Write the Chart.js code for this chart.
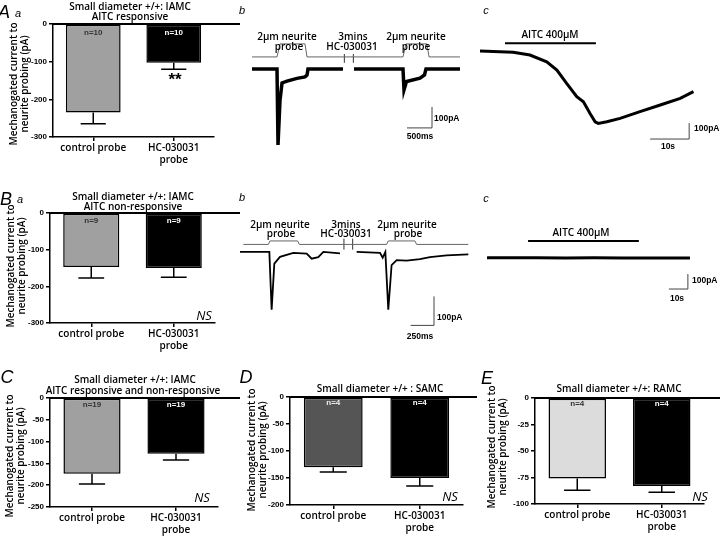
<!DOCTYPE html>
<html>
<head>
<meta charset="utf-8">
<script src="https://cdn.jsdelivr.net/npm/chart.js@4.4.1/dist/chart.umd.min.js"></script>
<style>
    body {margin: 0; width: 720px; height: 536px; position: relative; overflow: hidden; background: #fff; font-family: 'Open Sans', sans-serif; color: #000;}
    canvas {position: absolute;}
    .t {position: absolute; white-space: nowrap; transform: translate(-50%, -50%); line-height: 1;}
    .l {transform: translate(0, -50%);}
    .ttl {font-size: 10px; font-weight: 600;}
    .lbl {font-size: 10px; font-weight: 600;}
    .sc {font-size: 8.5px; font-weight: bold; font-family: 'Liberation Sans', sans-serif;}
    .big {font-size: 18px; font-style: italic; font-family: 'Liberation Sans', sans-serif;}
    .sub {font-size: 11px; font-style: italic; font-family: 'Liberation Sans', sans-serif;}
    .ns {font-size: 13px; font-style: italic;}
    .star {font-size: 17px; font-weight: bold; font-family: 'Liberation Sans', sans-serif;}
    .ax {font-size: 10px; font-weight: 600; line-height: 10.5px; text-align: center; transform: translate(-50%, -50%) rotate(-90deg);}
</style>
</head>
<body>
<canvas id="aa" width="240" height="180" style="left:0;top:0"></canvas>
<canvas id="ab" width="240" height="180" style="left:240px;top:0"></canvas>
<canvas id="ac" width="240" height="180" style="left:480px;top:0"></canvas>
<canvas id="ba" width="240" height="175" style="left:0;top:180px"></canvas>
<canvas id="bb" width="240" height="175" style="left:240px;top:180px"></canvas>
<canvas id="bc" width="240" height="175" style="left:480px;top:180px"></canvas>
<canvas id="cc" width="240" height="181" style="left:0;top:355px"></canvas>
<canvas id="dd" width="240" height="181" style="left:240px;top:355px"></canvas>
<canvas id="ee" width="240" height="181" style="left:480px;top:355px"></canvas>
<script>
    // ---- bar chart data (pA, mean and SEM) ----
    const barLabels = ['control probe', ['HC-030031', 'probe']];

    const aaMeans = [-235, -103];
    const aaErrs = [30, 17];
    const aaN = ['n=10', 'n=10'];

    const baMeans = [-147, -150];
    const baErrs = [30, 25];
    const baN = ['n=9', 'n=9'];

    const cMeans = [-174, -128];
    const cErrs = [23, 14];
    const cN = ['n=19', 'n=19'];

    const dMeans = [-130, -150];
    const dErrs = [9, 15];
    const dN = ['n=4', 'n=4'];

    const eMeans = [-76, -83];
    const eErrs = [11, 6];
    const eN = ['n=4', 'n=4'];

    // ---- traces (time, current) ----
    // A b : ms / pA
    const abLeftT = [0, 500, 520, 560, 600, 700, 900, 1060, 1100, 1120, 1820];
    const abLeftI = [0, 0, -362, -150, -67, -58, -45, -38, -30, 0, 0];
    const abRightT = [2040, 3020, 3040, 3090, 3360, 3450, 3480, 4160];
    const abRightI = [0, 0, -100, -60, -44, -29, 0, 0];
    const abStimT = [0, 500, 560, 1060, 1100, 3020, 3080, 3500, 3540, 4160];
    const abStimI = [57, 57, 119, 119, 57, 57, 119, 119, 57, 57];
    const abBreakT = [1847, 2027];
    const abBreakI = [29, 71];
    const abScaleT = [3100, 3600, 3600];
    const abScaleI = [-281, -281, -181];

    // A c : s / pA
    const acT = [0, 8.5, 12.8, 17.1, 19.7, 22.2, 24.8, 26.5, 28.2, 29.5, 30.3, 32.5, 35.9, 41.0, 46.2, 51.3, 54.7];
    const acI = [0, -8, -25, -67, -119, -202, -285, -317, -390, -442, -452, -442, -421, -379, -337, -296, -254];
    const acDrugT = [6.4, 29.7];
    const acDrugI = [48, 48];
    const acScaleT = [43.6, 53.6, 53.6];
    const acScaleI = [-550, -550, -450];

    // B b : ms / pA
    const bbLeftT = [0, 319, 344, 373, 435, 580, 725, 779, 851, 906, 1087];
    const bbLeftI = [0, 0, -199, -40, -17, -3, -6, -23, -18, 0, -5];
    const bbRightT = [1268, 1522, 1551, 1580, 1612, 1648, 1703, 1812, 1956, 2065, 2246, 2482];
    const bbRightI = [0, -3, -20, 0, -199, -45, -28, -30, -25, -18, -12, -8];
    const bbStimT = [36, 308, 326, 627, 645, 1594, 1612, 1902, 1920, 2482];
    const bbStimI = [26, 26, 38, 38, 26, 26, 38, 38, 26, 26];
    const bbBreakT = [1130, 1225];
    const bbBreakI = [8, 46];
    const bbScaleT = [1855, 2109, 2109];
    const bbScaleI = [-253, -253, -153];

    // B c : s / pA
    const bcT = [3.7, 15, 30, 45, 60, 75, 90, 110.5];
    const bcI = [2, 1, 2, 0, 1, 0, 0, 0];
    const bcDrugT = [25.3, 83.6];
    const bcDrugI = [113, 113];
    const bcScaleT = [99.4, 109.4, 109.4];
    const bcScaleI = [-207, -207, -107];

    Chart.defaults.font.family = "'Open Sans', sans-serif";
    Chart.defaults.color = '#000';

    // error bars, n labels and the zero line
    function barExtras(p) {
        return {
            id: 'barExtras',
            afterDraw(chart) {
                const ctx = chart.ctx;
                const y = chart.scales.y;
                const y0 = y.getPixelForValue(0);
                const bars = chart.getDatasetMeta(0).data;
                ctx.save();
                ctx.strokeStyle = '#000';
                ctx.lineWidth = 1.5;
                bars.forEach((bar, i) => {
                    const yTop = y.getPixelForValue(p.means[i]);
                    const yEnd = y.getPixelForValue(p.means[i] - p.errs[i]);
                    const half = bar.width * 0.23;
                    ctx.beginPath();
                    ctx.moveTo(bar.x, yTop);
                    ctx.lineTo(bar.x, yEnd);
                    ctx.moveTo(bar.x - half, yEnd);
                    ctx.lineTo(bar.x + half, yEnd);
                    ctx.stroke();
                    ctx.fillStyle = p.nColors[i];
                    ctx.font = "bold 8px 'Liberation Sans', sans-serif";
                    ctx.textAlign = 'center';
                    ctx.textBaseline = 'middle';
                    ctx.fillText(p.n[i], bar.x, y0 + p.nOffset);
                });
                ctx.lineWidth = 2.2;
                ctx.beginPath();
                ctx.moveTo(chart.chartArea.left - 1, y0);
                ctx.lineTo(p.zeroEnd, y0);
                ctx.stroke();
                ctx.restore();
            }
        };
    }

    function barChart(id, p) {
        const canvas = document.getElementById(id);
        const W = canvas.width;
        const H = canvas.height;
        return new Chart(canvas, {
            type: 'bar',
            data: {
                labels: barLabels,
                datasets: [{
                    data: p.means,
                    backgroundColor: [p.ctrlColor, '#000'],
                    borderColor: '#000',
                    borderWidth: 1.5,
                    borderSkipped: false,
                    barPercentage: 0.68,
                    categoryPercentage: 1
                }]
            },
            options: {
                responsive: false,
                animation: false,
                layout: {padding: {left: 0, top: p.top, right: W - p.right, bottom: 0}},
                plugins: {legend: {display: false}, tooltip: {enabled: false}},
                scales: {
                    x: {
                        grid: {drawOnChartArea: false, offset: false, tickLength: 4, color: '#000', lineWidth: 1.5},
                        border: {color: '#000', width: 1.5},
                        ticks: {color: '#000', font: {size: 10, weight: '600'}, padding: 1, maxRotation: 0, autoSkip: false},
                        afterFit: s => { s.height = H - p.bottom; }
                    },
                    y: {
                        min: p.min,
                        max: 0,
                        grid: {drawOnChartArea: false, tickLength: 4, color: '#000', lineWidth: 1.5},
                        border: {color: '#000', width: 1.5},
                        ticks: {stepSize: p.step, color: '#000', padding: 2,
                            font: {size: 8, weight: 'bold', family: "'Liberation Sans', sans-serif"}},
                        afterFit: s => { s.width = p.left; }
                    }
                }
            },
            plugins: [barExtras(p)]
        });
    }

    function pts(t, v) {
        return t.map((x, i) => ({x: x, y: v[i]}));
    }

    function traceChart(id, xr, yr, sets) {
        return new Chart(document.getElementById(id), {
            type: 'scatter',
            data: {
                datasets: sets.map(s => ({
                    data: pts(s.t, s.v),
                    showLine: true,
                    borderColor: s.color || '#000',
                    borderWidth: s.w,
                    pointRadius: 0,
                    tension: 0
                }))
            },
            options: {
                responsive: false,
                animation: false,
                layout: {padding: 0},
                plugins: {legend: {display: false}, tooltip: {enabled: false}},
                scales: {
                    x: {type: 'linear', display: false, min: xr[0], max: xr[1]},
                    y: {type: 'linear', display: false, min: yr[0], max: yr[1]}
                }
            }
        });
    }

    // bar panels
    barChart('aa', {means: aaMeans, errs: aaErrs, n: aaN, nColors: ['#333', '#fff'], ctrlColor: '#a0a0a0',
        min: -300, step: 100, left: 53, right: 214, top: 24, bottom: 137, zeroEnd: 240, nOffset: 9});
    barChart('ba', {means: baMeans, errs: baErrs, n: baN, nColors: ['#333', '#fff'], ctrlColor: '#a0a0a0',
        min: -300, step: 100, left: 50, right: 215, top: 33, bottom: 143, zeroEnd: 240, nOffset: 8});
    barChart('cc', {means: cMeans, errs: cErrs, n: cN, nColors: ['#333', '#fff'], ctrlColor: '#a0a0a0',
        min: -250, step: 50, left: 50, right: 218, top: 43, bottom: 152, zeroEnd: 240, nOffset: 7});
    barChart('dd', {means: dMeans, errs: dErrs, n: dN, nColors: ['#eee', '#fff'], ctrlColor: '#555',
        min: -200, step: 50, left: 50, right: 223, top: 42, bottom: 150, zeroEnd: 237, nOffset: 6});
    barChart('ee', {means: eMeans, errs: eErrs, n: eN, nColors: ['#333', '#fff'], ctrlColor: '#dcdcdc',
        min: -100, step: 25, left: 55, right: 224, top: 43, bottom: 149, zeroEnd: 240, nOffset: 6});

    // trace panels
    traceChart('ab', [-240, 4560], [-529, 328], [
        {t: abStimT, v: abStimI, w: 1, color: '#666'},
        {t: [abBreakT[0], abBreakT[0]], v: abBreakI, w: 1, color: '#333'},
        {t: [abBreakT[1], abBreakT[1]], v: abBreakI, w: 1, color: '#333'},
        {t: abLeftT, v: abLeftI, w: 3.5},
        {t: abRightT, v: abRightI, w: 3.5},
        {t: abScaleT, v: abScaleI, w: 1, color: '#444'}
    ]);
    traceChart('ac', [0, 61.5], [-806, 319], [
        {t: acDrugT, v: acDrugI, w: 2},
        {t: acT, v: acI, w: 3},
        {t: acScaleT, v: acScaleI, w: 1, color: '#444'}
    ]);
    traceChart('bb', [0, 2609], [-355, 248], [
        {t: bbStimT, v: bbStimI, w: 1, color: '#666'},
        {t: [bbBreakT[0], bbBreakT[0]], v: bbBreakI, w: 1, color: '#333'},
        {t: [bbBreakT[1], bbBreakT[1]], v: bbBreakI, w: 1, color: '#333'},
        {t: bbLeftT, v: bbLeftI, w: 1.8},
        {t: bbRightT, v: bbRightI, w: 1.8},
        {t: bbScaleT, v: bbScaleI, w: 1, color: '#444'}
    ]);
    traceChart('bc', [0, 126.3], [-647, 520], [
        {t: bcDrugT, v: bcDrugI, w: 2},
        {t: bcT, v: bcI, w: 3},
        {t: bcScaleT, v: bcScaleI, w: 1, color: '#444'}
    ]);

    // text overlay: [x, y, text, class]
    const yTitle = 'Mechanogated current to<br>neurite probing (pA)';
    const texts = [
        [4, 12, 'A', 'big'], [18, 13, 'a', 'sub'],
        [130, 6, 'Small diameter +/+: IAMC', 'ttl'], [130, 16, 'AITC responsive', 'ttl'],
        [18, 84, yTitle, 'ax'], [175, 79, '**', 'star'],
        [242, 10, 'b', 'sub'],
        [287, 36, '2µm neurite', 'lbl'], [289, 46, 'probe', 'lbl'],
        [353, 36, '3mins', 'lbl'], [352, 46, 'HC-030031', 'lbl'],
        [416, 36, '2µm neurite', 'lbl'], [416, 46, 'probe', 'lbl'],
        [434, 118, '100pA', 'sc l'], [420, 136, '500ms', 'sc'],
        [486, 10, 'c', 'sub'],
        [550, 34, 'AITC 400µM', 'lbl'],
        [694, 128, '100pA', 'sc l'], [668, 146, '10s', 'sc'],

        [6, 199, 'B', 'big'], [20, 199, 'a', 'sub'],
        [133, 196, 'Small diameter +/+: IAMC', 'ttl'], [133, 206, 'AITC non-responsive', 'ttl'],
        [15, 266, yTitle, 'ax'], [204, 315, 'NS', 'ns'],
        [242, 197, 'b', 'sub'],
        [280, 224, '2µm neurite', 'lbl'], [281, 233, 'probe', 'lbl'],
        [346, 224, '3mins', 'lbl'], [346, 233, 'HC-030031', 'lbl'],
        [407, 224, '2µm neurite', 'lbl'], [408, 233, 'probe', 'lbl'],
        [437, 317, '100pA', 'sc l'], [420, 336, '250ms', 'sc'],
        [486, 198, 'c', 'sub'],
        [581, 232, 'AITC 400µM', 'lbl'],
        [692, 280, '100pA', 'sc l'], [677, 298, '10s', 'sc'],

        [7, 377, 'C', 'big'],
        [135, 379, 'Small diameter +/+: IAMC', 'ttl'], [133, 390, 'AITC responsive and non-responsive', 'ttl'],
        [14, 456, yTitle, 'ax'], [202, 497, 'NS', 'ns'],

        [246, 377, 'D', 'big'],
        [380, 388, 'Small diameter +/+ : SAMC', 'ttl'],
        [256, 450, yTitle, 'ax'], [450, 496, 'NS', 'ns'],

        [487, 378, 'E', 'big'],
        [619, 388, 'Small diameter +/+: RAMC', 'ttl'],
        [496, 447, yTitle, 'ax'], [700, 496, 'NS', 'ns']
    ];
    for (const [x, y, s, cls] of texts) {
        const div = document.createElement('div');
        div.className = 't ' + cls;
        div.style.left = x + 'px';
        div.style.top = y + 'px';
        div.innerHTML = s;
        document.body.appendChild(div);
    }
</script>
</body>
</html>
